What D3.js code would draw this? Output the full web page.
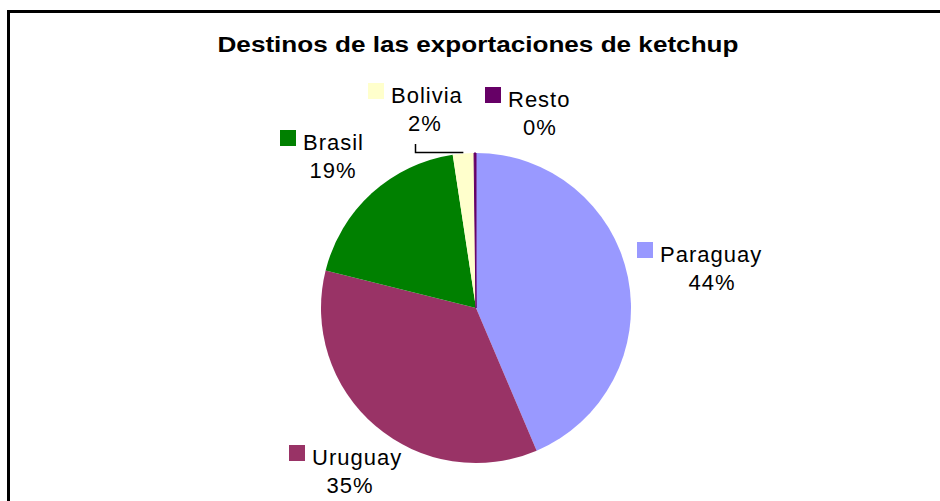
<!DOCTYPE html>
<html>
<head>
<meta charset="utf-8">
<script src="https://cdn.jsdelivr.net/npm/d3@7"></script>
<style>
  body { margin: 0; background: #fff; }
  text { font-family: "Liberation Sans", Arial, sans-serif; fill: #000; }
</style>
</head>
<body>
<div id="chart"></div>
<script>
// data
const categories = ["Paraguay", "Uruguay", "Brasil", "Bolivia", "Resto"];
const shares = [43.6, 35.3, 18.7, 2.2, 0.2];
const pctLabels = ["44%", "35%", "19%", "2%", "0%"];
const colors = ["#9999ff", "#993366", "#008000", "#ffffcc", "#660066"];

const width = 940, height = 501;
const cx = 476, cy = 308, radius = 155;

// where each label block sits (left edge of swatch, top line baseline)
const labelLayout = [
  { x: 637, y: 262, pctX: 712 },
  { x: 289, y: 465, pctX: 350 },
  { x: 280, y: 150, pctX: 333 },
  { x: 368, y: 103, pctX: 425 },
  { x: 485, y: 107, pctX: 540 }
];

const svg = d3.select("#chart").append("svg")
  .attr("width", width)
  .attr("height", height);

// chart frame, cut by the window on the right and bottom
svg.append("rect")
  .attr("x", 8.5)
  .attr("y", 11.5)
  .attr("width", 960)
  .attr("height", 520)
  .attr("fill", "none")
  .attr("stroke", "#000")
  .attr("stroke-width", 3);

svg.append("text")
  .attr("x", 478)
  .attr("y", 52)
  .attr("text-anchor", "middle")
  .attr("textLength", 521)
  .attr("lengthAdjust", "spacingAndGlyphs")
  .style("font-weight", "bold")
  .style("font-size", "22px")
  .text("Destinos de las exportaciones de ketchup");

const data = categories.map((c, i) => ({ name: c, value: shares[i], pct: pctLabels[i], color: colors[i], pos: labelLayout[i] }));

const pie = d3.pie().sort(null).value(d => d.value);
const arc = d3.arc().innerRadius(0).outerRadius(radius);

const g = svg.append("g").attr("transform", `translate(${cx},${cy})`);

g.selectAll("path")
  .data(pie(data))
  .enter()
  .append("path")
  .attr("d", arc)
  .attr("fill", d => d.data.color)
  .attr("stroke", d => d.data.name === "Resto" ? d.data.color : "none")
  .attr("stroke-width", 1);

// leader line for Bolivia
const bol = pie(data)[3];
const bolMid = (bol.startAngle + bol.endAngle) / 2;
const bolEdge = [cx + radius * Math.sin(bolMid), cy - radius * Math.cos(bolMid)];
svg.append("path")
  .attr("d", `M${415.5},${144} L${415.5},${152.5} L${bolEdge[0]},${152.5}`)
  .attr("fill", "none")
  .attr("stroke", "#000")
  .attr("stroke-width", 1.5);

const labels = svg.selectAll(".lbl")
  .data(data)
  .enter()
  .append("g")
  .attr("class", "lbl");

labels.append("rect")
  .attr("x", d => d.pos.x)
  .attr("y", d => d.pos.y - 20)
  .attr("width", 16)
  .attr("height", 16)
  .attr("fill", d => d.color);

labels.append("text")
  .attr("x", d => d.pos.x + 23)
  .attr("y", d => d.pos.y)
  .style("font-size", "22px")
  .style("letter-spacing", "1px")
  .text(d => d.name);

labels.append("text")
  .attr("x", d => d.pos.pctX)
  .attr("y", d => d.pos.y + 28)
  .attr("text-anchor", "middle")
  .style("font-size", "22px")
  .style("letter-spacing", "1px")
  .text(d => d.pct);
</script>
</body>
</html>
